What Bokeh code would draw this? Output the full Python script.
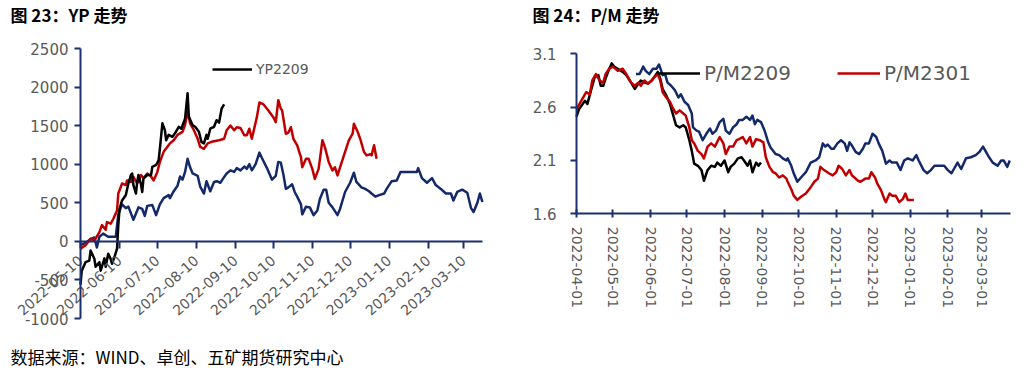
import pandas as pd
from bokeh.plotting import figure
from bokeh.layouts import row
from bokeh.models import FixedTicker, DatetimeTickFormatter, Range1d, Legend, LegendItem, Label
from bokeh.embed import file_html
from bokeh.resources import INLINE

# ---------------- Left chart: YP ----------------
yp_x_ticks = ["2022-05-10", "2022-06-10", "2022-07-10", "2022-08-10", "2022-09-10", "2022-10-10",
              "2022-11-10", "2022-12-10", "2023-01-10", "2023-02-10", "2023-03-10"]
yp_x_end = "2023-03-25"
yp_y_ticks = [-1000, -500, 0, 500, 1000, 1500, 2000, 2500]
yp_y_labels = ["-1000", "-500", "0", "500", "1000", "1500", "2000", "2500"]

yp2209_dates = ["2022-05-10", "2022-05-11", "2022-05-14", "2022-05-17", "2022-05-18", "2022-05-21", "2022-05-22",
                "2022-05-25", "2022-05-26", "2022-05-29", "2022-05-30", "2022-06-01", "2022-06-03", "2022-06-04",
                "2022-06-06", "2022-06-08", "2022-06-09", "2022-06-10", "2022-06-12", "2022-06-15", "2022-06-17",
                "2022-06-19", "2022-06-20", "2022-06-21", "2022-06-23", "2022-06-24", "2022-06-25", "2022-06-27",
                "2022-06-28", "2022-06-29", "2022-07-02", "2022-07-05", "2022-07-06", "2022-07-09", "2022-07-11",
                "2022-07-12", "2022-07-14", "2022-07-16", "2022-07-17", "2022-07-19", "2022-07-22", "2022-07-24",
                "2022-07-27", "2022-07-29", "2022-08-01", "2022-08-03", "2022-08-04", "2022-08-07", "2022-08-09",
                "2022-08-12", "2022-08-14", "2022-08-16", "2022-08-18", "2022-08-19", "2022-08-21", "2022-08-24",
                "2022-08-26", "2022-08-28", "2022-08-30", "2022-09-01"]
yp2209_vals = [-560, -380, -270, -250, -120, -225, -330,
               -270, -380, -220, -330, -160, -230, -290,
               -200, -95, 210, 420, 530, 600, 750,
               860, 880, 730, 620, 770, 860, 740,
               640, 815, 860, 860, 965, 990, 1050,
               1200, 1530, 1440, 1310, 1380, 1355, 1400,
               1485, 1460, 1590, 1920, 1615, 1505, 1485,
               1420, 1290, 1270, 1380, 1330, 1460, 1485,
               1570, 1540, 1720, 1775]

yp2301_dates = ["2022-05-10", "2022-05-14", "2022-05-18", "2022-05-21", "2022-05-25", "2022-05-27", "2022-05-30",
                "2022-05-31", "2022-06-03", "2022-06-05", "2022-06-08", "2022-06-09", "2022-06-12", "2022-06-15",
                "2022-06-16", "2022-06-19", "2022-06-21", "2022-06-24", "2022-06-27", "2022-06-29", "2022-07-02",
                "2022-07-05", "2022-07-07", "2022-07-10", "2022-07-12", "2022-07-15", "2022-07-18", "2022-07-20",
                "2022-07-23", "2022-07-26", "2022-07-30", "2022-08-01", "2022-08-03", "2022-08-05", "2022-08-08",
                "2022-08-11", "2022-08-13", "2022-08-16", "2022-08-19", "2022-08-22", "2022-08-28", "2022-09-01",
                "2022-09-03", "2022-09-06", "2022-09-09", "2022-09-11", "2022-09-14", "2022-09-17", "2022-09-19",
                "2022-09-21", "2022-09-23", "2022-09-27", "2022-09-29", "2022-10-02", "2022-10-06", "2022-10-10",
                "2022-10-12", "2022-10-14", "2022-10-16", "2022-10-17", "2022-10-20", "2022-10-22", "2022-10-24",
                "2022-10-26", "2022-10-29", "2022-11-01", "2022-11-02", "2022-11-05", "2022-11-07", "2022-11-10",
                "2022-11-12", "2022-11-15", "2022-11-18", "2022-11-20", "2022-11-23", "2022-11-26", "2022-11-28",
                "2022-11-30", "2022-12-02", "2022-12-06", "2022-12-09", "2022-12-12", "2022-12-13", "2022-12-16",
                "2022-12-18", "2022-12-21", "2022-12-23", "2022-12-26", "2022-12-27", "2022-12-29", "2022-12-31"]
yp2301_vals = [-95, -50, 35, 10, 120, 210, 150,
               250, 230, 290, 400, 620, 750, 730,
               790, 770, 835, 750, 860, 820, 880,
               840, 790, 900, 1030, 1160, 1225, 1270,
               1310, 1380, 1420, 1510, 1680, 1530, 1440,
               1330, 1225, 1200, 1270, 1290, 1310, 1330,
               1440, 1500, 1440, 1480, 1470, 1375, 1375,
               1460, 1330, 1610, 1800, 1780, 1700, 1610,
               1545, 1830, 1720, 1700, 1395, 1410, 1480,
               1330, 1245, 1090, 960, 1070, 1070, 940,
               810, 940, 1310, 1220, 1030, 920, 960,
               855, 960, 1160, 1310, 1395, 1525, 1420,
               1330, 1160, 1115, 1130, 1115, 1245, 1070]

yp2305_dates = ["2022-05-10", "2022-05-14", "2022-05-18", "2022-05-21", "2022-05-23", "2022-05-25", "2022-05-28",
                "2022-06-01", "2022-06-07", "2022-06-09", "2022-06-12", "2022-06-15", "2022-06-17", "2022-06-21",
                "2022-06-25", "2022-06-28", "2022-06-30", "2022-07-02", "2022-07-06", "2022-07-09", "2022-07-12",
                "2022-07-15", "2022-07-19", "2022-07-20", "2022-07-23", "2022-07-26", "2022-07-28", "2022-07-30",
                "2022-08-01", "2022-08-03", "2022-08-05", "2022-08-07", "2022-08-11", "2022-08-13", "2022-08-16",
                "2022-08-18", "2022-08-21", "2022-08-24", "2022-08-26", "2022-08-29", "2022-08-31", "2022-09-03",
                "2022-09-06", "2022-09-09", "2022-09-11", "2022-09-14", "2022-09-17", "2022-09-19", "2022-09-21",
                "2022-09-23", "2022-09-26", "2022-09-29", "2022-10-01", "2022-10-05", "2022-10-09", "2022-10-12",
                "2022-10-14", "2022-10-16", "2022-10-18", "2022-10-20", "2022-10-22", "2022-10-25", "2022-10-27",
                "2022-10-29", "2022-11-01", "2022-11-02", "2022-11-05", "2022-11-08", "2022-11-11", "2022-11-14",
                "2022-11-16", "2022-11-19", "2022-11-21", "2022-11-23", "2022-11-26", "2022-11-30", "2022-12-02",
                "2022-12-06", "2022-12-10", "2022-12-13", "2022-12-15", "2022-12-19", "2022-12-22", "2022-12-25",
                "2022-12-27", "2022-12-30", "2023-01-02", "2023-01-06", "2023-01-08", "2023-01-12", "2023-01-16",
                "2023-01-19", "2023-02-01", "2023-02-02", "2023-02-05", "2023-02-09", "2023-02-13", "2023-02-16",
                "2023-02-20", "2023-02-24", "2023-02-28", "2023-03-02", "2023-03-05", "2023-03-09", "2023-03-13",
                "2023-03-16", "2023-03-18", "2023-03-21", "2023-03-23", "2023-03-25"]
yp2305_vals = [-50, -20, 30, 50, -80, 60, 100,
               60, 60, 350, 480, 430, 450, 280,
               440, 420, 330, 460, 470, 340, 480,
               560, 600, 560, 650, 720, 840, 800,
               900, 1070, 960, 880, 850, 710, 620,
               780, 650, 770, 780, 760, 810, 880,
               920, 900, 950, 920, 970, 940, 1000,
               920, 1000, 1150, 1080, 950, 800, 850,
               1030, 1020, 870, 680, 700, 740, 640,
               580, 480, 350, 450, 440, 340, 400,
               550, 670, 670, 500, 440, 340, 420,
               640, 760, 890, 770, 700, 680, 650,
               620, 580, 600, 620, 680, 780, 790,
               900, 900, 950, 820, 760, 820, 730,
               680, 620, 620, 530, 640, 670, 630,
               430, 380, 500, 620, 510]

# ---------------- Right chart: P/M ----------------
pm_x_ticks = ["2022-04-01", "2022-05-01", "2022-06-01", "2022-07-01", "2022-08-01", "2022-09-01",
              "2022-10-01", "2022-11-01", "2022-12-01", "2023-01-01", "2023-02-01", "2023-03-01"]
pm_x_end = "2023-03-25"
pm_y_ticks = [1.6, 2.1, 2.6, 3.1]

pm2209_dates = ["2022-04-01", "2022-04-03", "2022-04-08", "2022-04-10", "2022-04-13", "2022-04-16", "2022-04-19",
                "2022-04-21", "2022-04-23", "2022-04-25", "2022-04-28", "2022-04-30", "2022-05-02", "2022-05-05",
                "2022-05-09", "2022-05-12", "2022-05-16", "2022-05-19", "2022-05-22", "2022-05-24", "2022-05-27",
                "2022-05-30", "2022-06-02", "2022-06-04", "2022-06-07", "2022-06-09", "2022-06-11", "2022-06-14",
                "2022-06-17", "2022-06-19", "2022-06-22", "2022-06-25", "2022-06-28", "2022-06-30", "2022-07-03",
                "2022-07-05", "2022-07-07", "2022-07-10", "2022-07-13", "2022-07-15", "2022-07-18", "2022-07-21",
                "2022-07-24", "2022-07-26", "2022-07-29", "2022-08-01", "2022-08-04", "2022-08-06", "2022-08-09",
                "2022-08-12", "2022-08-15", "2022-08-17", "2022-08-20", "2022-08-22", "2022-08-24", "2022-08-27",
                "2022-08-29", "2022-08-31"]
pm2209_vals = [2.51, 2.58, 2.66, 2.63, 2.76, 2.88, 2.90,
               2.80, 2.80, 2.87, 2.96, 3.01, 2.98, 2.96,
               2.93, 2.90, 2.83, 2.77, 2.82, 2.85, 2.83,
               2.82, 2.85, 2.88, 2.93, 2.87, 2.77, 2.71,
               2.63, 2.55, 2.43, 2.41, 2.43, 2.41, 2.29,
               2.19, 2.07, 2.05, 2.01, 1.91, 2.01, 2.05,
               2.04, 2.08, 2.05, 2.10, 1.99, 2.04, 2.07,
               2.12, 2.13, 2.10, 2.05, 2.10, 1.99, 2.08,
               2.05, 2.08]

pm2301_dates = ["2022-04-01", "2022-04-05", "2022-04-09", "2022-04-12", "2022-04-14", "2022-04-17", "2022-04-20",
                "2022-04-23", "2022-04-25", "2022-04-28", "2022-05-01", "2022-05-05", "2022-05-09", "2022-05-12",
                "2022-05-16", "2022-05-19", "2022-05-22", "2022-05-24", "2022-05-27", "2022-05-30", "2022-06-02",
                "2022-06-04", "2022-06-07", "2022-06-09", "2022-06-11", "2022-06-14", "2022-06-17", "2022-06-19",
                "2022-06-22", "2022-06-25", "2022-06-28", "2022-06-30", "2022-07-03", "2022-07-05", "2022-07-07",
                "2022-07-10", "2022-07-13", "2022-07-15", "2022-07-18", "2022-07-21", "2022-07-24", "2022-07-28",
                "2022-07-31", "2022-08-02", "2022-08-05", "2022-08-08", "2022-08-11", "2022-08-13", "2022-08-16",
                "2022-08-19", "2022-08-22", "2022-08-24", "2022-08-27", "2022-08-30", "2022-09-02", "2022-09-04",
                "2022-09-07", "2022-09-10", "2022-09-12", "2022-09-15", "2022-09-18", "2022-09-21", "2022-09-22",
                "2022-09-25", "2022-09-27", "2022-09-30", "2022-10-03", "2022-10-07", "2022-10-11", "2022-10-14",
                "2022-10-17", "2022-10-19", "2022-10-22", "2022-10-26", "2022-10-29", "2022-11-01", "2022-11-03",
                "2022-11-06", "2022-11-09", "2022-11-12", "2022-11-14", "2022-11-19", "2022-11-21", "2022-11-25",
                "2022-11-28", "2022-11-30", "2022-12-03", "2022-12-05", "2022-12-08", "2022-12-11", "2022-12-12",
                "2022-12-15", "2022-12-17", "2022-12-20", "2022-12-23", "2022-12-26", "2022-12-28", "2022-12-30",
                "2023-01-01", "2023-01-04"]
pm2301_vals = [2.58, 2.66, 2.74, 2.72, 2.85, 2.91, 2.85,
               2.83, 2.91, 2.96, 2.98, 2.94, 2.96, 2.91,
               2.83, 2.80, 2.83, 2.80, 2.85, 2.82, 2.85,
               2.88, 2.91, 2.85, 2.74, 2.69, 2.65, 2.60,
               2.54, 2.57, 2.54, 2.52, 2.41, 2.29, 2.26,
               2.19, 2.16, 2.12, 2.23, 2.26, 2.23, 2.32,
               2.26, 2.16, 2.23, 2.23, 2.29, 2.30, 2.32,
               2.26, 2.32, 2.23, 2.30, 2.29, 2.27, 2.13,
               2.04, 1.99, 1.98, 1.94, 1.96, 1.93, 1.90,
               1.83, 1.77, 1.73, 1.76, 1.79, 1.85, 1.90,
               1.93, 2.04, 2.01, 1.98, 1.96, 1.99, 2.05,
               2.02, 1.96, 2.01, 1.96, 1.91, 1.90, 1.93,
               1.93, 1.99, 1.94, 1.88, 1.82, 1.73, 1.71,
               1.79, 1.77, 1.77, 1.71, 1.74, 1.79, 1.73,
               1.73, 1.73]

pm2305_dates = ["2022-05-20", "2022-05-23", "2022-05-26", "2022-05-28", "2022-05-31", "2022-06-03", "2022-06-06",
                "2022-06-08", "2022-06-11", "2022-06-13", "2022-06-15", "2022-06-18", "2022-06-21", "2022-06-24",
                "2022-06-26", "2022-06-29", "2022-07-02", "2022-07-05", "2022-07-06", "2022-07-09", "2022-07-11",
                "2022-07-14", "2022-07-17", "2022-07-20", "2022-07-22", "2022-07-25", "2022-07-28", "2022-07-31",
                "2022-08-02", "2022-08-05", "2022-08-08", "2022-08-11", "2022-08-13", "2022-08-16", "2022-08-19",
                "2022-08-22", "2022-08-24", "2022-08-26", "2022-08-28", "2022-08-31", "2022-09-03", "2022-09-06",
                "2022-09-08", "2022-09-10", "2022-09-12", "2022-09-15", "2022-09-18", "2022-09-21", "2022-09-22",
                "2022-09-25", "2022-09-27", "2022-09-30", "2022-10-03", "2022-10-07", "2022-10-11", "2022-10-15",
                "2022-10-18", "2022-10-21", "2022-10-23", "2022-10-25", "2022-10-28", "2022-10-30", "2022-11-02",
                "2022-11-05", "2022-11-08", "2022-11-10", "2022-11-12", "2022-11-14", "2022-11-17", "2022-11-20",
                "2022-11-23", "2022-11-25", "2022-11-28", "2022-12-01", "2022-12-04", "2022-12-06", "2022-12-09",
                "2022-12-12", "2022-12-15", "2022-12-17", "2022-12-21", "2022-12-24", "2022-12-27", "2022-12-30",
                "2023-01-03", "2023-01-06", "2023-01-08", "2023-01-12", "2023-01-15", "2023-01-18", "2023-01-21",
                "2023-01-29", "2023-02-01", "2023-02-04", "2023-02-06", "2023-02-09", "2023-02-12", "2023-02-16",
                "2023-02-20", "2023-02-24", "2023-02-27", "2023-03-02", "2023-03-04", "2023-03-07", "2023-03-10",
                "2023-03-14", "2023-03-17", "2023-03-19", "2023-03-22", "2023-03-24"]
pm2305_vals = [2.91, 2.91, 2.98, 2.94, 2.91, 2.96, 2.96,
               3.00, 2.90, 2.91, 2.83, 2.80, 2.76, 2.69,
               2.72, 2.65, 2.62, 2.54, 2.41, 2.38, 2.37,
               2.29, 2.35, 2.40, 2.35, 2.38, 2.46, 2.49,
               2.38, 2.35, 2.41, 2.44, 2.48, 2.48, 2.51,
               2.48, 2.52, 2.44, 2.48, 2.46, 2.38, 2.27,
               2.22, 2.19, 2.16, 2.15, 2.12, 2.10, 2.12,
               2.05, 1.98, 1.90, 1.94, 1.99, 2.08, 2.10,
               2.13, 2.26, 2.23, 2.25, 2.21, 2.21, 2.26,
               2.29, 2.26, 2.19, 2.27, 2.24, 2.18, 2.16,
               2.21, 2.26, 2.26, 2.35, 2.32, 2.26, 2.19,
               2.07, 2.10, 2.08, 2.08, 2.01, 2.10, 2.12,
               2.10, 2.15, 2.10, 2.01, 1.98, 2.01, 2.05,
               2.05, 2.01, 1.98, 2.02, 2.08, 2.02, 2.12,
               2.13, 2.15, 2.18, 2.23, 2.19, 2.13, 2.08,
               2.05, 2.10, 2.10, 2.04, 2.10]

NAVY = "#13296A"
RED = "#C00000"
BLACK = "#000000"
AXIS = "#1A2F70"
GRAY = "#595959"
FONT = "DejaVu Sans"
CJK = "Noto Sans CJK SC"
H = 370


def dt(lst):
    return pd.to_datetime(lst)


def ms(d):
    return pd.Timestamp(d).value / 1e6


def fmt():
    f = "%Y-%m-%d"
    return DatetimeTickFormatter(days=f, months=f, years=f, hours=f, minutes=f, seconds=f, milliseconds=f,
                                 microseconds=f, context=None)


def style_axis(ax, size):
    ax.axis_line_color = AXIS
    ax.axis_line_width = 2
    ax.major_tick_line_color = AXIS
    ax.major_tick_line_width = 2
    ax.minor_tick_line_color = None
    ax.major_label_text_color = GRAY
    ax.major_label_text_font = FONT
    ax.major_label_text_font_size = size


def make_fig(width, t0, x0_px, px_per_day, v_top, y_top_px, v_bot, y_bot_px):
    """Frame covers the whole canvas; ranges chosen so that axes land at the wanted pixels."""
    t0 = pd.Timestamp(t0)
    xs = t0 - pd.Timedelta(days=x0_px / px_per_day)
    xe = t0 + pd.Timedelta(days=(width - x0_px) / px_per_day)
    ppu = (y_bot_px - y_top_px) / (v_top - v_bot)
    ys = v_bot - (H - y_bot_px) / ppu
    ye = v_top + y_top_px / ppu
    p = figure(width=width, height=H, x_axis_type="datetime", output_backend="svg", toolbar_location=None,
               x_range=Range1d(xs, xe), y_range=Range1d(ys, ye),
               min_border_left=0, min_border_right=0, min_border_top=0, min_border_bottom=0)
    p.outline_line_color = None
    p.xgrid.grid_line_color = None
    p.ygrid.grid_line_color = None
    return p


# ---- left figure (page x 0..514) ----
p1 = make_fig(514, yp_x_ticks[0], 80, (463 - 80) / 304, yp_y_ticks[-1], 48, yp_y_ticks[0], 318)

p1.line(dt(yp2305_dates), yp2305_vals, color=NAVY, line_width=2.5, line_join="round")
p1.line(dt(yp2301_dates), yp2301_vals, color=RED, line_width=2.5, line_join="round")
r_yp2209 = p1.line(dt(yp2209_dates), yp2209_vals, color=BLACK, line_width=2.5, line_join="round")

xa1 = p1.xaxis[0]
xa1.fixed_location = 0
xa1.bounds = (ms(yp_x_ticks[0]), ms(yp_x_end))
xa1.ticker = FixedTicker(ticks=[ms(d) for d in yp_x_ticks])
xa1.formatter = fmt()
style_axis(xa1, "14px")
xa1.major_tick_in = 0
xa1.major_tick_out = 7
xa1.major_label_orientation = 0.73
xa1.major_label_standoff = 10

ya1 = p1.yaxis[0]
ya1.fixed_location = ms(yp_x_ticks[0])
ya1.bounds = (yp_y_ticks[0], yp_y_ticks[-1])
ya1.ticker = FixedTicker(ticks=yp_y_ticks)
ya1.major_label_overrides = {t: s for t, s in zip(yp_y_ticks, yp_y_labels)}
style_axis(ya1, "15px")
ya1.major_tick_in = 0
ya1.major_tick_out = 6
ya1.major_label_standoff = 6

leg1 = Legend(items=[LegendItem(label="YP2209", renderers=[r_yp2209])], location=(212, 293),
              glyph_width=40, glyph_height=16, label_standoff=4, padding=0, margin=0,
              border_line_color=None, background_fill_alpha=0,
              label_text_font=FONT, label_text_font_size="14px", label_text_color=GRAY)
p1.add_layout(leg1)

p1.add_layout(Label(x=10, y=H - 1, x_units="screen", y_units="screen", text="图 23：YP 走势",
                    text_font=CJK, text_font_style="bold", text_font_size="17px",
                    text_baseline="top", text_color="black"))
p1.add_layout(Label(x=10, y=H - 343, x_units="screen", y_units="screen",
                    text="数据来源：WIND、卓创、五矿期货研究中心",
                    text_font=CJK, text_font_size="17px", text_baseline="top", text_color="black"))

# ---- right figure (page x 514..1024) ----
p2 = make_fig(510, pm_x_ticks[0], 62, (981 - 575.7) / 334, pm_y_ticks[-1], 53.3, pm_y_ticks[0], 213.3)

r_pm2209 = p2.line(dt(pm2209_dates), pm2209_vals, color=BLACK, line_width=2.5, line_join="round")
r_pm2301 = p2.line(dt(pm2301_dates), pm2301_vals, color=RED, line_width=2.5, line_join="round")
p2.line(dt(pm2305_dates), pm2305_vals, color=NAVY, line_width=2.5, line_join="round")

xa2 = p2.xaxis[0]
xa2.fixed_location = pm_y_ticks[0]
xa2.bounds = (ms(pm_x_ticks[0]), ms(pm_x_end))
xa2.ticker = FixedTicker(ticks=[ms(d) for d in pm_x_ticks])
xa2.formatter = fmt()
style_axis(xa2, "14px")
xa2.major_tick_in = 4
xa2.major_tick_out = 4
xa2.major_label_orientation = "vertical"
xa2.major_label_standoff = 9

ya2 = p2.yaxis[0]
ya2.fixed_location = ms(pm_x_ticks[0])
ya2.bounds = (pm_y_ticks[0], pm_y_ticks[-1])
ya2.ticker = FixedTicker(ticks=pm_y_ticks)
style_axis(ya2, "15px")
ya2.major_tick_in = 0
ya2.major_tick_out = 6
ya2.major_label_standoff = 14

leg2 = Legend(items=[LegendItem(label="P/M2209", renderers=[r_pm2209]),
                     LegendItem(label="P/M2301", renderers=[r_pm2301])],
              location=(143, 285), orientation="horizontal", spacing=46,
              glyph_width=43, glyph_height=20, label_standoff=4, padding=0, margin=0,
              border_line_color=None, background_fill_alpha=0,
              label_text_font=FONT, label_text_font_size="20px", label_text_color=GRAY)
p2.add_layout(leg2)

p2.add_layout(Label(x=18, y=H - 1, x_units="screen", y_units="screen", text="图 24：P/M 走势",
                    text_font=CJK, text_font_style="bold", text_font_size="17px",
                    text_baseline="top", text_color="black"))

layout = row(p1, p2)
open("out.html", "w").write(file_html(layout, INLINE))
